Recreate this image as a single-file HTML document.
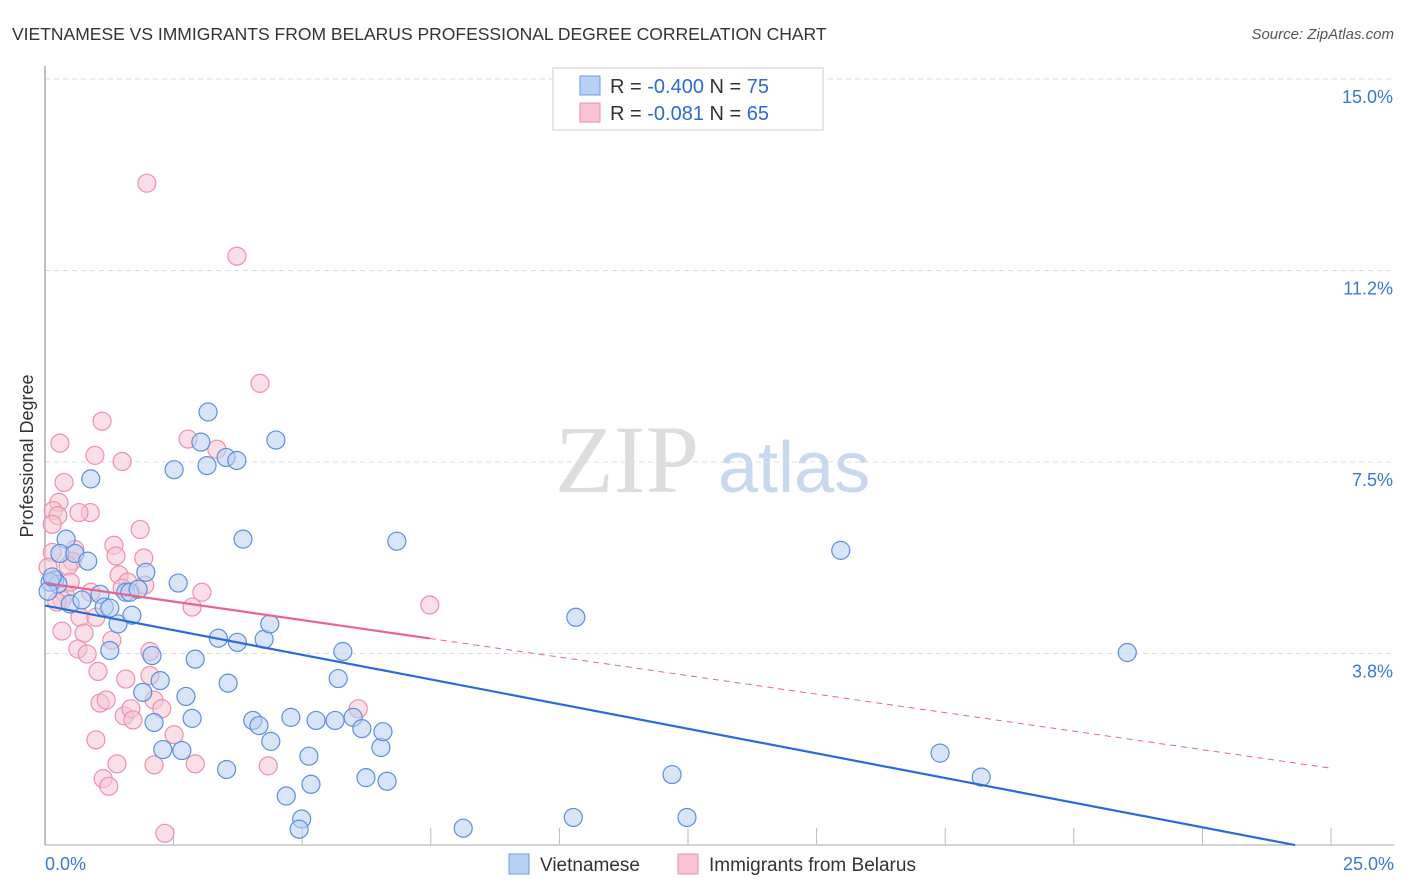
<!DOCTYPE html>
<html><head><meta charset="utf-8">
<style>
body{margin:0;background:#fff;font-family:"Liberation Sans",sans-serif;}
#wrap{position:relative;width:1406px;height:892px;overflow:hidden;}
</style></head>
<body>
<div id="wrap">
<svg id="chart" width="1406" height="892" xmlns="http://www.w3.org/2000/svg">
<text x="12" y="40" font-size="17.5" fill="#333">VIETNAMESE VS IMMIGRANTS FROM BELARUS PROFESSIONAL DEGREE CORRELATION CHART</text>
<text x="1394" y="39" font-size="15" fill="#555" font-style="italic" text-anchor="end">Source: ZipAtlas.com</text>
<text x="33" y="456" font-size="18" fill="#333" text-anchor="middle" transform="rotate(-90 33 456)">Professional Degree</text>
<text x="555" y="492" font-size="96" fill="#ddd" font-family="Liberation Serif,serif">ZIP</text>
<text x="718" y="492" font-size="72" fill="#c8d8ee">atlas</text>
<g id="grid"></g><g id="axes"></g><g id="pts"></g><g id="trend"></g>
<g>
<rect x="553" y="68" width="270" height="62" fill="#fff" stroke="#ccc"/>
<rect x="580" y="76" width="20" height="19" fill="#b8d0f2" stroke="#6a9ce0"/>
<rect x="580" y="103" width="20" height="19" fill="#f8c4d4" stroke="#ec90ad"/>
<text x="610" y="93" font-size="20" fill="#333">R = <tspan fill="#2c6bd6">-0.400</tspan>    N = <tspan fill="#2c6bd6">75</tspan></text>
<text x="610" y="120" font-size="20" fill="#333">R =  <tspan fill="#2c6bd6">-0.081</tspan>    N = <tspan fill="#2c6bd6">65</tspan></text>
</g>
<g>
<rect x="509" y="854" width="20" height="20" fill="#b8d0f2" stroke="#6a9ce0"/>
<text x="540" y="871" font-size="19" fill="#333">Vietnamese</text>
<rect x="678" y="854" width="20" height="20" fill="#f8c4d4" stroke="#ec90ad"/>
<text x="709" y="871" font-size="19" fill="#333">Immigrants from Belarus</text>
</g>
</svg>
</div>
<script>
const yTicks=[15.0,11.25,7.5,3.75];
const yTickLabels=["15.0%","11.2%","7.5%","3.8%"];
const xTickLabels=["0.0%","25.0%"];
const blueX=[0.41,0.89,0.29,0.58,0.83,0.19,0.25,0.10,0.49,0.72,1.07,1.15,1.26,1.42,1.69,1.26,1.57,1.65,1.81,1.96,2.08,2.24,1.90,2.12,2.29,2.66,2.59,2.74,2.86,2.92,2.51,3.03,3.17,3.15,3.52,3.73,3.37,3.74,3.56,3.53,3.85,4.04,4.16,4.26,4.37,4.49,4.39,4.78,5.13,5.27,4.69,5.17,4.99,4.94,5.64,5.70,5.79,5.99,6.16,6.53,6.57,6.24,6.65,6.84,8.13,10.27,10.32,12.19,12.48,15.47,17.40,18.20,21.04,0.06,0.14];
const blueY=[5.99,7.17,5.71,5.71,5.56,5.19,5.11,5.15,4.72,4.80,4.91,4.66,4.64,4.33,4.50,3.81,4.95,4.95,5.01,5.34,3.71,3.22,2.99,2.40,1.87,1.85,5.13,2.91,2.48,3.64,7.35,7.89,8.48,7.43,7.59,7.53,4.05,3.97,3.17,1.48,5.99,2.44,2.34,4.03,4.33,7.93,2.03,2.50,1.74,2.44,0.96,1.19,0.51,0.31,2.44,3.26,3.79,2.50,2.28,1.91,2.22,1.32,1.25,5.95,0.33,0.54,4.46,1.38,0.54,5.77,1.80,1.33,3.77,4.97,5.25];
const pinkX=[1.98,3.73,4.18,1.11,0.29,0.97,1.50,2.78,3.34,0.37,0.27,0.16,0.88,0.66,0.25,0.14,1.85,1.34,0.58,0.53,0.45,1.38,1.92,1.44,1.61,1.94,0.39,0.89,1.50,3.05,2.86,7.48,0.68,0.99,0.33,1.30,0.76,0.64,0.82,2.04,1.03,1.07,1.19,1.57,2.04,2.12,2.27,1.54,1.67,1.71,2.51,0.99,1.40,1.13,1.24,2.12,2.92,4.34,6.09,2.33,0.14,0.06,0.33,0.49,0.23];
const pinkY=[12.96,11.53,9.04,8.30,7.87,7.63,7.51,7.95,7.75,7.10,6.71,6.55,6.51,6.51,6.45,6.28,6.18,5.87,5.79,5.56,5.46,5.66,5.62,5.29,5.15,5.09,4.91,4.95,5.03,4.95,4.66,4.70,4.46,4.46,4.19,4.01,4.15,3.84,3.74,3.79,3.40,2.78,2.84,3.25,3.32,2.84,2.67,2.53,2.67,2.45,2.16,2.06,1.59,1.30,1.15,1.57,1.59,1.55,2.67,0.23,5.73,5.44,4.80,5.15,4.76];
const trendIntercept=[4.69,5.13];
const trendSlope=[-0.193,-0.145];
const NS="http://www.w3.org/2000/svg";
const X0=45,X1=1331,Y15=79,PPU=51.07;
function xs(v){return X0+v/25*(X1-X0);}
function ys(v){return Y15+(15-v)*PPU;}
function mk(tag,attrs,parent){const e=document.createElementNS(NS,tag);for(const k in attrs)e.setAttribute(k,attrs[k]);parent.appendChild(e);return e;}
const grid=document.getElementById('grid'),axes=document.getElementById('axes'),pts=document.getElementById('pts'),tr=document.getElementById('trend');
yTicks.forEach((t,i)=>{
 const l=mk('line',{x1:X0,x2:1394,y1:ys(t),y2:ys(t),stroke:'#ddd','stroke-dasharray':'5,4'},grid);
 
 
 const tx=mk('text',{x:1393,y:ys(t)+24,'font-size':18,fill:'#3a78d4','text-anchor':'end'},axes);
 tx.textContent=yTickLabels[i];
 
 
});
const ax=mk('line',{x1:X0,x2:X0,y1:66,y2:845,stroke:'#aaa','stroke-width':1.5},axes);


const bx=mk('line',{x1:X0,x2:1394,y1:845,y2:845,stroke:'#aaa','stroke-width':1},axes);


for(let i=1;i<=10;i++){
 const t=mk('line',{x1:xs(i*2.5),x2:xs(i*2.5),y1:828,y2:845,stroke:'#bbb'},axes);
 
 
}
[[45,'start',0],[1394,'end',1]].forEach(a=>{
 const t=mk('text',{x:a[0],y:870,'font-size':18,fill:'#3a78d4','text-anchor':a[1]},axes);
 t.textContent=xTickLabels[a[2]];
 
 
});
function drawPts(X,Y,fill,stroke,name){
 X.forEach((x,i)=>{
  const c=mk('circle',{cx:xs(x),cy:ys(Y[i]),r:9,fill:fill,'fill-opacity':0.55,stroke:stroke,'stroke-width':1.2},pts);
  
  
 });
}
drawPts(pinkX,pinkY,'#f8c4d4','#ec90ad','point-belarus');
drawPts(blueX,blueY,'#b8d0f2','#5a8fe0','point-vietnamese');
// blue trend
let xe=Math.min(25,-trendIntercept[0]/trendSlope[0]);
let b=mk('line',{x1:xs(0),y1:ys(trendIntercept[0]),x2:xs(xe),y2:ys(trendIntercept[0]+trendSlope[0]*xe),stroke:'#2c6bd6','stroke-width':2.2},tr);


const pmax=Math.max(...pinkX);
let p=mk('line',{x1:xs(0),y1:ys(trendIntercept[1]),x2:xs(pmax),y2:ys(trendIntercept[1]+trendSlope[1]*pmax),stroke:'#e8638f','stroke-width':2.2},tr);


let pd=mk('line',{x1:xs(pmax),y1:ys(trendIntercept[1]+trendSlope[1]*pmax),x2:xs(25),y2:ys(trendIntercept[1]+trendSlope[1]*25),stroke:'#e8638f','stroke-width':1,'stroke-dasharray':'6,5'},tr);


</script>
</body></html>
